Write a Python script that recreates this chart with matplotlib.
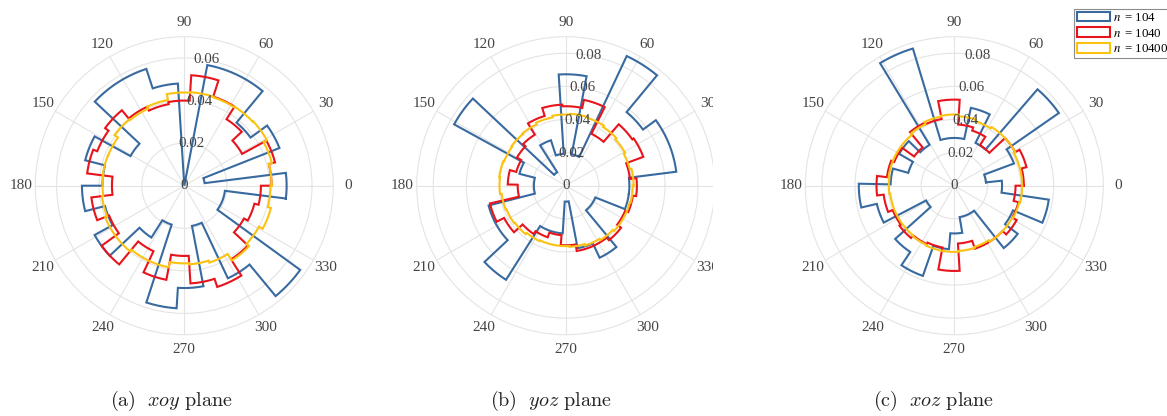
import numpy as np
import matplotlib
matplotlib.use("Agg")
import matplotlib.pyplot as plt
from matplotlib.patches import Rectangle
from matplotlib.font_manager import FontProperties

# ---------------- data ----------------
sample_sizes = [104, 1040, 10400]
series_labels = [r"$n\,$ = 104", r"$n\,$ = 1040", r"$n\,$ = 10400"]
series_colors = ["#386aa0", "#e8141c", "#fbc211"]
panel_captions = [r"$\mathrm{(a)}\ \ xoy\ \mathrm{plane}$",
                  r"$\mathrm{(b)}\ \ yoz\ \mathrm{plane}$",
                  r"$\mathrm{(c)}\ \ xoz\ \mathrm{plane}$"]
theta_ticks_deg = list(range(0, 360, 30))
theta_tick_labels = [str(t) for t in theta_ticks_deg]
r_ticks_a = [0, 0.02, 0.04, 0.06]
r_ticks_bc = [0, 0.02, 0.04, 0.06, 0.08]
r_tick_labels_a = ["0", "0.02", "0.04", "0.06"]
r_tick_labels_bc = ["0", "0.02", "0.04", "0.06", "0.08"]
r_max = [0.07, 0.09, 0.09]

bin_width_deg = 14.4  # 25 bins
# first bin edge (deg) for each series in each panel
first_edges = {"xoy": [-7.2, 0.0, 0.0],
               "yoz": [-7.2, 6.0, 0.0],
               "xoz": [6.0, 0.0, 0.0]}

# n = 104 : counts per bin
xoy_counts_104 = [5, 1, 5, 4, 6, 6, 0, 5, 6, 6, 3, 5, 4, 5, 4, 5, 3, 2, 6, 5, 2, 5, 7, 2, 2]
yoz_counts_104 = [4, 7, 7, 6, 9, 2, 7, 2, 3, 1, 8, 3, 2, 2, 5, 5, 7, 3, 3, 1, 4, 5, 2, 2, 4]
xoz_counts_104 = [2, 4, 8, 3, 5, 3, 3, 9, 3, 4, 3, 4, 6, 5, 2, 5, 6, 4, 3, 2, 2, 5, 4, 6, 3]

# n = 1040 : probabilities per bin
xoy_prob_1040 = [0.041, 0.044, 0.031, 0.037, 0.044, 0.052, 0.040, 0.039, 0.041, 0.046,
                 0.044, 0.046, 0.034, 0.044, 0.038, 0.048, 0.034, 0.045, 0.033, 0.046,
                 0.050, 0.041, 0.032, 0.034, 0.036]
yoz_prob_1040 = [0.039, 0.050, 0.049, 0.035, 0.053, 0.048, 0.049, 0.044, 0.036, 0.034,
                 0.031, 0.035, 0.029, 0.047, 0.042, 0.035, 0.033, 0.030, 0.036, 0.040,
                 0.040, 0.042, 0.039, 0.041, 0.043]
xoz_prob_1040 = [0.042, 0.045, 0.042, 0.029, 0.035, 0.037, 0.052, 0.041, 0.042, 0.030,
                 0.039, 0.041, 0.047, 0.043, 0.040, 0.041, 0.039, 0.038, 0.0515, 0.035,
                 0.040, 0.040, 0.043, 0.040, 0.037]

# n = 10400 : probabilities per bin
xoy_prob_10400 = [0.041, 0.0425, 0.0443, 0.044, 0.0437, 0.044, 0.0438, 0.041, 0.040, 0.0405,
                  0.0385, 0.0386, 0.0384, 0.039, 0.040, 0.040, 0.039, 0.039, 0.0365, 0.037,
                  0.038, 0.0416, 0.040, 0.042, 0.0405]
yoz_prob_10400 = [0.041, 0.040, 0.041, 0.042, 0.043, 0.0435, 0.043, 0.042, 0.041, 0.0405,
                  0.040, 0.0405, 0.040, 0.039, 0.0385, 0.038, 0.037, 0.0365, 0.0365, 0.037,
                  0.038, 0.039, 0.040, 0.040, 0.0405]
xoz_prob_10400 = [0.041, 0.041, 0.042, 0.042, 0.041, 0.042, 0.043, 0.0425, 0.041, 0.040,
                  0.040, 0.040, 0.0395, 0.039, 0.039, 0.039, 0.0395, 0.040, 0.040, 0.0395,
                  0.039, 0.040, 0.040, 0.0405, 0.041]

panels = [
    ("xoy", [np.array(xoy_counts_104) / sample_sizes[0], xoy_prob_1040, xoy_prob_10400]),
    ("yoz", [np.array(yoz_counts_104) / sample_sizes[0], yoz_prob_1040, yoz_prob_10400]),
    ("xoz", [np.array(xoz_counts_104) / sample_sizes[0], xoz_prob_1040, xoz_prob_10400]),
]

# ---------------- style ----------------
plt.rcParams["font.family"] = ["Liberation Serif", "DejaVu Serif"]
tick_color = "#444444"
grid_color = "#e4e4e4"

W, H = 1167, 416
fig = plt.figure(figsize=(W / 100, H / 100), dpi=100)

centers_px = [(184.3, 185.7), (565.7, 185.7), (954.3, 185.7)]
radius_px = 149.0
caption_x_px = [171, 551, 934]
caption_y_px = 401


def stair_outline(values, first_edge_deg):
    th, rr = [], []
    for j, v in enumerate(values):
        e0 = np.deg2rad(first_edge_deg + j * bin_width_deg)
        e1 = np.deg2rad(first_edge_deg + (j + 1) * bin_width_deg)
        t = np.linspace(e0, e1, 16)
        th.extend(t)
        rr.extend([v] * len(t))
    th.append(th[0])
    rr.append(rr[0])
    return np.array(th), np.array(rr)


for i, (name, series) in enumerate(panels):
    cx, cy = centers_px[i]
    rect = [(cx - radius_px) / W, (H - cy - radius_px) / H, 2 * radius_px / W, 2 * radius_px / H]
    ax = fig.add_axes(rect, projection="polar")
    for k, vals in enumerate(series):
        th, rr = stair_outline(vals, first_edges[name][k])
        ax.plot(th, rr, color=series_colors[k], lw=1.5, solid_joinstyle="miter",
                zorder=3 + k, clip_on=False)
    ax.set_ylim(0, r_max[i])
    ax.set_thetagrids(theta_ticks_deg, theta_tick_labels)
    rt = r_ticks_a if i == 0 else r_ticks_bc
    rl = r_tick_labels_a if i == 0 else r_tick_labels_bc
    ax.set_rticks(rt)
    ax.set_yticklabels([])
    for rv, lab in zip(rt, rl):
        ax.text(np.deg2rad(80), rv, lab, ha="center", va="center", fontsize=10.8,
                color=tick_color, zorder=10)
    ax.tick_params(axis="x", pad=0, labelsize=11, colors=tick_color)
    ax.grid(True, color=grid_color, lw=0.8)
    ax.spines["polar"].set_color(grid_color)
    ax.spines["polar"].set_linewidth(0.8)
    ax.set_facecolor("white")

    fig.text(caption_x_px[i] / W, 1 - caption_y_px / H, panel_captions[i],
             ha="center", va="center", fontsize=14.5, math_fontfamily="cm", color="#222222")

# panel (b) is cut on its right side in the original figure
fig.patches.append(Rectangle((713 / W, 0.18), (772 - 713) / W, 0.82, transform=fig.transFigure,
                             facecolor="white", edgecolor="none", zorder=20))

handles = [Rectangle((0, 0), 1, 1, facecolor="none", edgecolor=c, lw=1.5) for c in series_colors]
leg_font = FontProperties(family="Liberation Serif", size=9.3, math_fontfamily="stix")
leg = fig.legend(handles, series_labels, loc="upper left",
                 bbox_to_anchor=(1074 / W, 1 - 9 / H), prop=leg_font,
                 handlelength=2.6, handleheight=0.8, handletextpad=0.2,
                 labelspacing=0.24, borderpad=0.2, borderaxespad=0,
                 fancybox=False, framealpha=1, edgecolor="#8c8c8c")
leg.get_frame().set_linewidth(0.8)
leg.set_zorder(30)

fig.savefig("out.png", dpi=100)
